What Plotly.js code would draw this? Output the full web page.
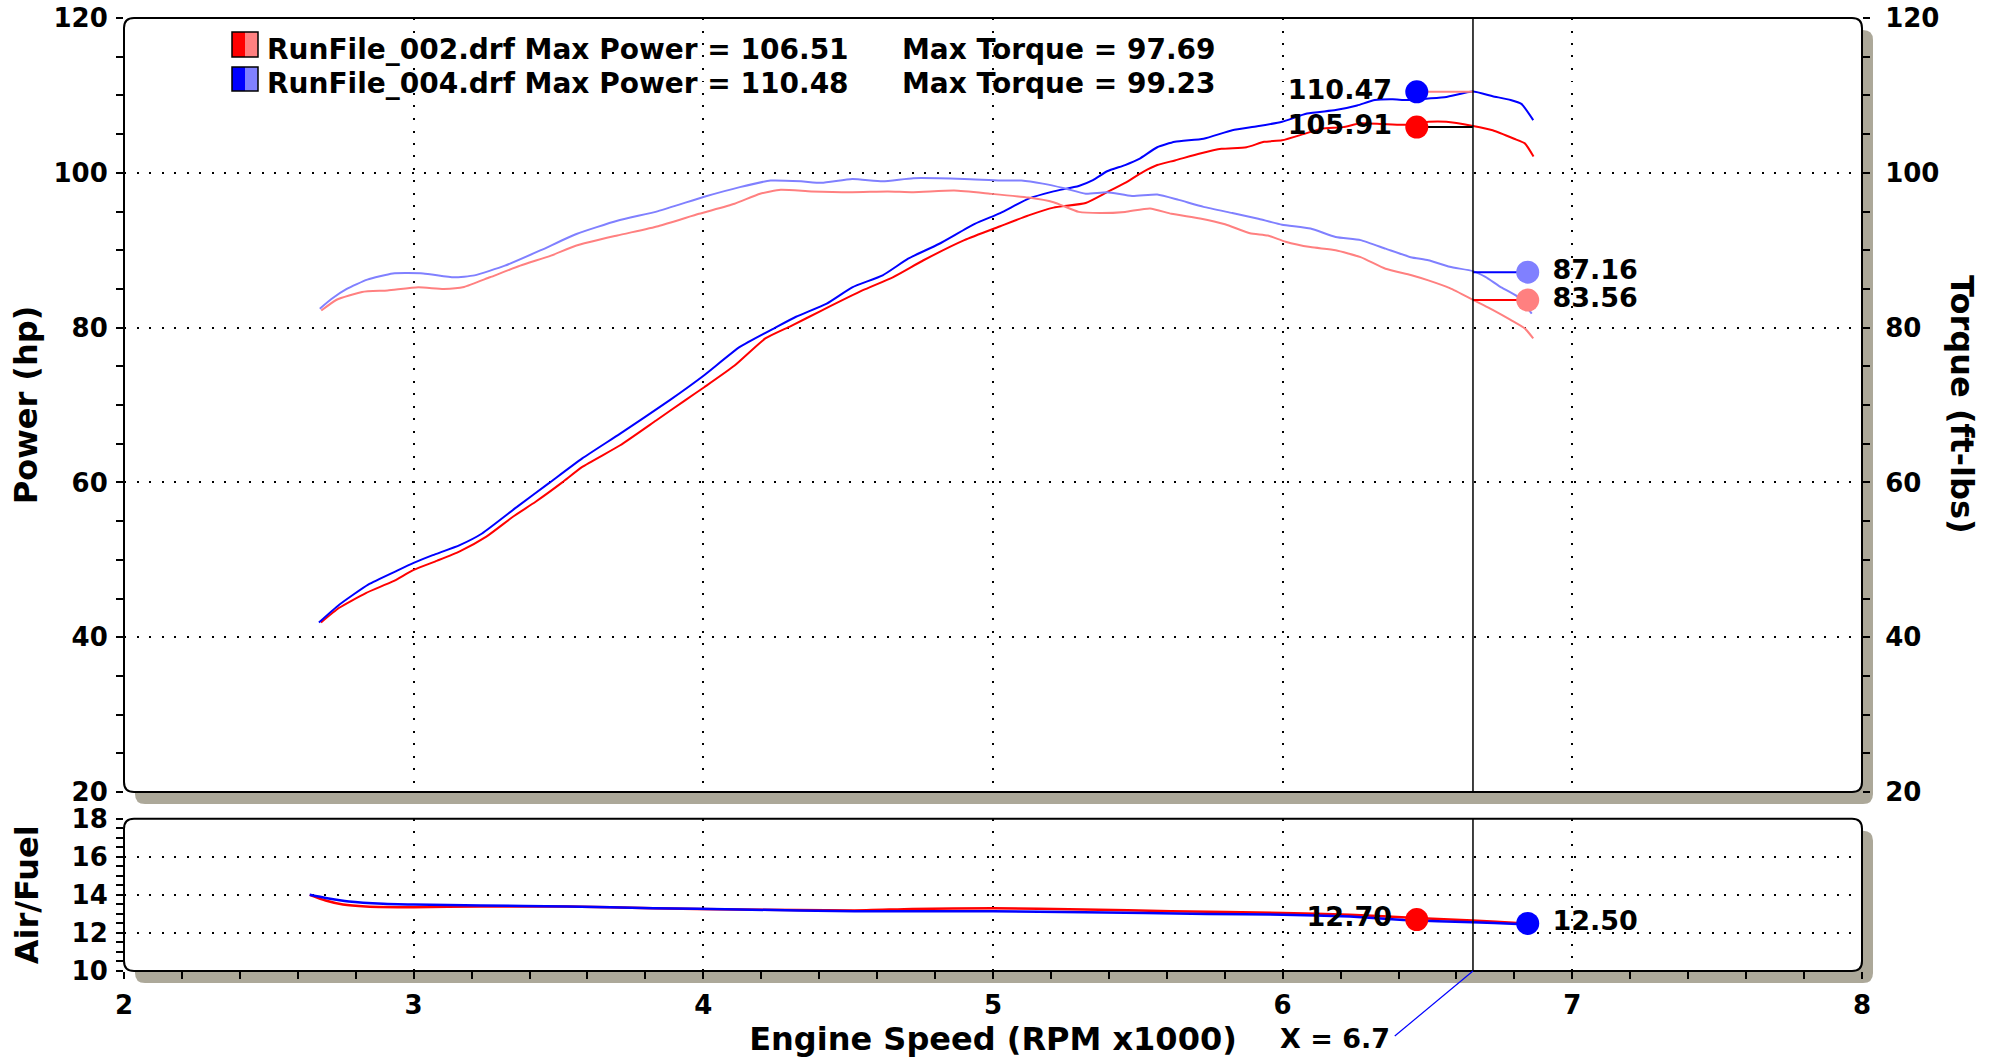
<!DOCTYPE html>
<html><head><meta charset="utf-8">
<script src="https://cdn.plot.ly/plotly-3.0.1.min.js"></script>
<style>html,body{margin:0;padding:0;background:#fff}#chart{width:1997px;height:1060px}</style>
</head><body><div id="chart"></div><script>
// ---------------- DATA ----------------
const files = ['RunFile_002.drf', 'RunFile_004.drf'];
const maxPower = [106.51, 110.48];
const maxTorque = [97.69, 99.23];
const cursorRpm = 6.657;
const cursorPower = [105.91, 110.47];
const cursorTorque = [83.56, 87.16];
const cursorAfr = [12.70, 12.50];

const rpmPower002 = [2.680,2.743,2.835,2.928,3.000,3.082,3.159,3.251,3.344,3.421,3.513,3.582,3.713,3.837,3.937,4.003,4.108,4.214,4.302,4.408,4.549,4.654,4.760,4.901,5.025,5.123,5.209,5.320,5.394,5.456,5.517,5.567,5.628,5.715,5.789,5.875,5.936,5.998,6.072,6.134,6.208,6.269,6.343,6.420,6.503,6.565,6.657,6.725,6.799,6.836,6.866];
const power002    = [41.9,43.8,45.7,47.2,48.7,49.9,51.1,53.0,55.6,57.5,60.0,62.0,64.8,68.0,70.6,72.3,75.1,78.6,80.2,82.2,84.8,86.5,88.7,91.3,93.1,94.5,95.5,96.1,97.5,98.7,100.1,101.0,101.6,102.5,103.1,103.3,104.0,104.2,105.0,105.7,105.9,106.4,106.3,106.2,106.6,106.6,106.05,105.5,104.4,103.8,102.1];

const rpmPower004 = [2.673,2.743,2.843,2.943,3.000,3.066,3.159,3.236,3.359,3.467,3.582,3.713,3.883,4.003,4.126,4.249,4.320,4.426,4.514,4.619,4.707,4.813,4.937,5.025,5.123,5.209,5.296,5.345,5.394,5.456,5.505,5.567,5.628,5.727,5.826,5.912,5.998,6.084,6.183,6.257,6.318,6.380,6.429,6.503,6.565,6.657,6.725,6.787,6.824,6.865];
const power004    = [41.9,44.2,46.8,48.6,49.6,50.6,51.9,53.4,56.9,59.9,63.1,66.3,70.6,73.85,77.5,80.0,81.4,83.1,85.2,86.75,88.9,90.8,93.4,94.8,96.66,97.6,98.3,99.05,100.2,101.0,101.8,103.3,104.0,104.4,105.5,106.0,106.6,107.65,108.1,108.7,109.4,109.5,109.4,109.6,109.8,110.5,109.9,109.4,108.9,106.8];

const rpmTorque002 = [2.681,2.734,2.822,2.910,3.016,3.104,3.174,3.263,3.368,3.474,3.562,3.703,3.844,3.985,4.108,4.196,4.267,4.373,4.514,4.637,4.725,4.866,4.989,5.123,5.209,5.296,5.370,5.456,5.542,5.616,5.715,5.801,5.887,5.949,6.010,6.096,6.183,6.269,6.355,6.442,6.503,6.577,6.657,6.725,6.787,6.836,6.865];
const torque002    = [82.2,83.6,84.6,84.8,85.2,85.0,85.25,86.5,88.0,89.3,90.6,91.9,93.1,94.7,96.0,97.3,97.8,97.6,97.5,97.6,97.5,97.7,97.3,96.8,96.2,94.95,94.8,94.95,95.4,94.7,94.1,93.35,92.2,91.9,91.1,90.4,90.0,89.1,87.6,86.8,86.1,85.1,83.6,82.3,81.0,79.9,78.6];

const rpmTorque004 = [2.676,2.716,2.769,2.840,2.928,3.033,3.139,3.210,3.315,3.439,3.562,3.703,3.844,4.003,4.126,4.232,4.337,4.408,4.514,4.619,4.725,4.901,5.025,5.098,5.172,5.246,5.320,5.394,5.480,5.567,5.641,5.727,5.826,5.912,5.998,6.096,6.183,6.269,6.355,6.442,6.503,6.577,6.657,6.700,6.750,6.811,6.860];
const torque004    = [82.45,83.7,85.0,86.2,87.0,87.0,86.5,86.75,88.0,90.0,92.1,93.8,95.05,96.9,98.15,99.0,98.9,98.7,99.2,98.9,99.3,99.2,99.0,99.0,98.6,98.0,97.3,97.5,97.0,97.2,96.5,95.6,94.8,94.1,93.3,92.8,91.7,91.3,90.2,89.1,88.7,87.85,87.3,86.55,85.3,84.0,81.8];

const rpmAfr002 = [2.641,2.696,2.756,2.835,3.000,3.232,3.530,3.827,4.125,4.522,4.720,5.000,5.315,5.615,6.000,6.232,6.460,6.655,6.824,6.848];
const afr002    = [14.0,13.7,13.49,13.39,13.35,13.39,13.39,13.30,13.23,13.18,13.26,13.30,13.23,13.14,13.05,12.95,12.79,12.65,12.51,12.50];
const rpmAfr004 = [2.641,2.696,2.776,2.895,3.000,3.232,3.530,3.827,4.125,4.522,5.000,5.315,5.739,6.000,6.232,6.417,6.655,6.811,6.846];
const afr004    = [14.0,13.84,13.65,13.53,13.49,13.44,13.39,13.30,13.23,13.14,13.14,13.09,13.0,12.96,12.86,12.68,12.56,12.47,12.46];

// ---------------- STYLE / LAYOUT CONSTANTS ----------------
const DARK = ['#ff0000', '#0000ff'];
const LIGHT = ['#ff8080', '#8080ff'];
const POWER_LEADER = ['#000000', '#ff8080'];
const TORQUE_LEADER = ['#ff0000', '#0000ff'];
const LABEL_LEFT_X = 6.463;
const LABEL_RIGHT_X = 6.846;
const FONT = 'DejaVu Sans, Verdana, sans-serif';
const W = 1997, H = 1060, ML = 124, MR = 135, MT = 18, MB = 89;
const PW = W - ML - MR, PH = H - MT - MB;
const px2x = p => (p - ML) / PW;
const px2y = p => (H - MB - p) / PH;
const TOP_DOM = [px2y(792), 1];
const BOT_DOM = [0, px2y(818.7)];
const NBSP = '\u00a0';

function roundRect(x0, y0, x1, y1, rpx) {
  const rx = rpx / PW, ry = rpx / PH;
  return `M ${x0+rx},${y1} L ${x1-rx},${y1} Q ${x1},${y1} ${x1},${y1-ry} L ${x1},${y0+ry} Q ${x1},${y0} ${x1-rx},${y0} L ${x0+rx},${y0} Q ${x0},${y0} ${x0},${y0+ry} L ${x0},${y1-ry} Q ${x0},${y1} ${x0+rx},${y1} Z`;
}
const SDX = 11 / PW, SDY = 12 / PH;
const shapes = [];
[TOP_DOM, BOT_DOM].forEach(d => {
  shapes.push({type: 'path', xref: 'paper', yref: 'paper', layer: 'below',
    path: roundRect(0 + SDX, d[0] - SDY, 1 + SDX, d[1] - SDY, 10),
    fillcolor: '#aca899', line: {width: 0}});
  shapes.push({type: 'path', xref: 'paper', yref: 'paper', layer: 'below',
    path: roundRect(0, d[0], 1, d[1], 10),
    fillcolor: '#ffffff', line: {color: '#000', width: 2}});
});
// cursor lines
shapes.push({type: 'line', xref: 'x', yref: 'y domain', x0: cursorRpm, x1: cursorRpm, y0: 0, y1: 1, line: {color: '#000', width: 1.5}, layer: 'above'});
shapes.push({type: 'line', xref: 'x2', yref: 'y2 domain', x0: cursorRpm, x1: cursorRpm, y0: 0, y1: 1, line: {color: '#000', width: 1.5}, layer: 'above'});
// pointer from cursor readout to cursor
shapes.push({type: 'line', xref: 'x2', yref: 'paper', x0: 6.387, y0: px2y(1036), x1: cursorRpm, y1: 0, line: {color: '#0000ff', width: 1.2}});
// legend swatches
[[32, 57], [67, 91]].forEach((yy, i) => {
  const xa = px2x(232), xm = px2x(245), xb = px2x(258);
  shapes.push({type: 'rect', xref: 'paper', yref: 'paper', x0: xa, x1: xm, y0: px2y(yy[1]), y1: px2y(yy[0]), fillcolor: DARK[i], line: {width: 0}});
  shapes.push({type: 'rect', xref: 'paper', yref: 'paper', x0: xm, x1: xb, y0: px2y(yy[1]), y1: px2y(yy[0]), fillcolor: LIGHT[i], line: {width: 0}});
  shapes.push({type: 'rect', xref: 'paper', yref: 'paper', x0: xa, x1: xb, y0: px2y(yy[1]), y1: px2y(yy[0]), fillcolor: 'rgba(0,0,0,0)', line: {color: '#000', width: 1.5}});
});

const annotations = [];
const legY = [49.5, 83];
files.forEach((f, i) => {
  annotations.push({xref: 'paper', yref: 'paper', x: px2x(265), y: px2y(legY[i]), xanchor: 'left', yanchor: 'middle', showarrow: false,
    text: `${f} Max Power = ${maxPower[i].toFixed(2)}`, font: {family: FONT, size: 28, weight: 'bold', color: '#000'}});
  annotations.push({xref: 'paper', yref: 'paper', x: px2x(900), y: px2y(legY[i]), xanchor: 'left', yanchor: 'middle', showarrow: false,
    text: `Max Torque = ${maxTorque[i].toFixed(2)}`, font: {family: FONT, size: 28, weight: 'bold', color: '#000'}});
});
annotations.push({xref: 'paper', yref: 'paper', x: px2x(1962), y: px2y(404), xanchor: 'center', yanchor: 'middle', textangle: 90, showarrow: false,
  text: 'Torque (ft-lbs)', font: {family: FONT, size: 32, weight: 'bold', color: '#000'}});
annotations.push({xref: 'paper', yref: 'paper', x: px2x(1392), y: px2y(1038), xanchor: 'right', yanchor: 'middle', showarrow: false,
  text: 'X = ' + cursorRpm.toFixed(1), font: {family: FONT, size: 27, weight: 'bold', color: '#000'}});

const lineT = (x, y, color, xa, ya, w) => ({type: 'scatter', mode: 'lines', x: x, y: y, xaxis: xa, yaxis: ya,
  line: {color: color, width: w || 2, shape: 'spline', smoothing: 0.5}, hoverinfo: 'skip', showlegend: false});

const traces = [
  lineT(rpmTorque002, torque002, LIGHT[0], 'x', 'y3'),
  lineT(rpmTorque004, torque004, LIGHT[1], 'x', 'y3'),
  lineT(rpmPower002, power002, DARK[0], 'x', 'y'),
  lineT(rpmPower004, power004, DARK[1], 'x', 'y'),
  lineT(rpmAfr002, afr002, DARK[0], 'x2', 'y2', 2.5),
  lineT(rpmAfr004, afr004, DARK[1], 'x2', 'y2', 2.5),
];
// leaders
[0, 1].forEach(i => {
  traces.push({type: 'scatter', mode: 'lines', x: [LABEL_LEFT_X, cursorRpm], y: [cursorPower[i], cursorPower[i]], xaxis: 'x', yaxis: 'y',
    line: {color: POWER_LEADER[i], width: 2}, showlegend: false, hoverinfo: 'skip'});
  traces.push({type: 'scatter', mode: 'lines', x: [cursorRpm, LABEL_RIGHT_X], y: [cursorTorque[i], cursorTorque[i]], xaxis: 'x', yaxis: 'y3',
    line: {color: TORQUE_LEADER[i], width: 2}, showlegend: false, hoverinfo: 'skip'});
});
const dotFont = {family: FONT, size: 27, weight: 'bold', color: '#000'};
const leftLbl = v => v.toFixed(2) + NBSP;
const rightLbl = v => NBSP + v.toFixed(2);
[0, 1].forEach(i => {
  traces.push({type: 'scatter', mode: 'markers+text', x: [LABEL_LEFT_X], y: [cursorPower[i]], xaxis: 'x', yaxis: 'y',
    marker: {color: DARK[i], size: 23}, text: [leftLbl(cursorPower[i])], textposition: 'middle left', textfont: dotFont, showlegend: false, hoverinfo: 'skip'});
  traces.push({type: 'scatter', mode: 'markers+text', x: [LABEL_RIGHT_X], y: [cursorTorque[i]], xaxis: 'x', yaxis: 'y3',
    marker: {color: LIGHT[i], size: 23}, text: [rightLbl(cursorTorque[i])], textposition: 'middle right', textfont: dotFont, showlegend: false, hoverinfo: 'skip'});
});
traces.push({type: 'scatter', mode: 'markers+text', x: [LABEL_LEFT_X], y: [cursorAfr[0]], xaxis: 'x2', yaxis: 'y2',
  marker: {color: DARK[0], size: 23}, text: [leftLbl(cursorAfr[0])], textposition: 'middle left', textfont: dotFont, showlegend: false, hoverinfo: 'skip'});
traces.push({type: 'scatter', mode: 'markers+text', x: [LABEL_RIGHT_X], y: [cursorAfr[1]], xaxis: 'x2', yaxis: 'y2',
  marker: {color: DARK[1], size: 23}, text: [rightLbl(cursorAfr[1])], textposition: 'middle right', textfont: dotFont, showlegend: false, hoverinfo: 'skip'});

const tickFont = {family: FONT, size: 26, weight: 'bold', color: '#000'};
const titleFont = {family: FONT, size: 32, weight: 'bold', color: '#000'};
const GRID = {showgrid: true, gridcolor: '#000', gridwidth: 2, griddash: '2px,10.5px', zeroline: false, showline: false};
const TK = (len, dir) => ({ticks: dir, ticklen: len, tickwidth: 2, tickcolor: '#000'});

const layout = {
  width: W, height: H,
  margin: {l: ML, r: MR, t: MT, b: MB, pad: 0},
  paper_bgcolor: '#fff', plot_bgcolor: 'rgba(0,0,0,0)',
  showlegend: false,
  xaxis: Object.assign({domain: [0, 1], anchor: 'y', range: [2, 8], dtick: 1, showticklabels: false, ticks: ''}, GRID),
  xaxis2: Object.assign({domain: [0, 1], anchor: 'y2', range: [2, 8], dtick: 1, tick0: 2, tickfont: tickFont, ticklabelstandoff: 4,
    minor: {dtick: 0.2, ticks: 'outside', ticklen: 7, tickwidth: 2, tickcolor: '#000', showgrid: false},
    title: {text: 'Engine Speed (RPM x1000)', font: titleFont, standoff: 8}}, GRID, TK(7, 'outside')),
  xaxis3: Object.assign({overlaying: 'x2', anchor: 'y2', side: 'bottom', range: [2, 8], dtick: 1, showticklabels: false, showgrid: false, zeroline: false, showline: false,
    minor: {dtick: 0.2, ticks: 'inside', ticklen: 7, tickwidth: 2, tickcolor: '#000'}}, TK(7, 'inside')),
  yaxis: Object.assign({domain: TOP_DOM, anchor: 'x', range: [20, 120], dtick: 20, tick0: 20, tickfont: tickFont, ticklabelstandoff: 3,
    minor: {dtick: 5, ticks: 'outside', ticklen: 7, tickwidth: 2, tickcolor: '#000', showgrid: false},
    title: {text: 'Power (hp)', font: titleFont, standoff: 6}}, GRID, TK(7, 'outside')),
  yaxis3: Object.assign({overlaying: 'y', side: 'right', anchor: 'x', range: [20, 120], dtick: 20, tick0: 20, tickfont: tickFont, ticklabelstandoff: 10,
    showgrid: false, zeroline: false, showline: false,
    minor: {dtick: 5, ticks: 'outside', ticklen: 7, tickwidth: 2, tickcolor: '#000'}}, TK(7, 'outside')),
  yaxis4: Object.assign({overlaying: 'y', side: 'left', anchor: 'x', range: [20, 120], dtick: 20, tick0: 20, showticklabels: false, showgrid: false, zeroline: false, showline: false,
    minor: {dtick: 5, ticks: 'inside', ticklen: 7, tickwidth: 2, tickcolor: '#000'}}, TK(7, 'inside')),
  yaxis5: Object.assign({overlaying: 'y', side: 'right', anchor: 'x', range: [20, 120], dtick: 20, tick0: 20, showticklabels: false, showgrid: false, zeroline: false, showline: false,
    minor: {dtick: 5, ticks: 'inside', ticklen: 7, tickwidth: 2, tickcolor: '#000'}}, TK(7, 'inside')),
  yaxis2: Object.assign({domain: BOT_DOM, anchor: 'x2', range: [10, 18], dtick: 2, tick0: 10, tickfont: tickFont, ticklabelstandoff: 3,
    minor: {dtick: 0.5, ticks: 'outside', ticklen: 7, tickwidth: 2, tickcolor: '#000', showgrid: false},
    title: {text: 'Air/Fuel', font: titleFont, standoff: 23}}, GRID, TK(7, 'outside')),
  yaxis6: Object.assign({overlaying: 'y2', side: 'left', anchor: 'x2', range: [10, 18], dtick: 2, tick0: 10, showticklabels: false, showgrid: false, zeroline: false, showline: false,
    minor: {dtick: 0.5, ticks: 'inside', ticklen: 7, tickwidth: 2, tickcolor: '#000'}}, TK(7, 'inside')),
  shapes: shapes,
  annotations: annotations
};

Plotly.newPlot('chart', traces, layout, {displayModeBar: false, staticPlot: true});
</script></body></html>
